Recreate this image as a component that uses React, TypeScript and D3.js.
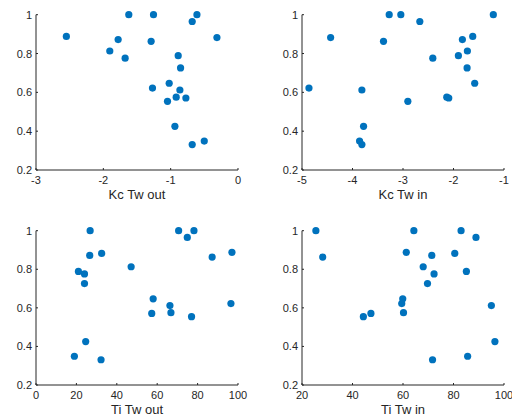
import React from "react";
import * as d3 from "d3";

const yVals = [1, 1, 1, 0.965, 0.888, 0.882, 0.872, 0.863, 0.813, 0.789, 0.776, 0.726, 0.647, 0.622, 0.612, 0.575, 0.571, 0.554, 0.425, 0.349, 0.331];
const kcTwOut = [-1.622, -1.255, -0.61, -0.68, -2.549, -0.313, -1.78, -1.29, -1.904, -0.888, -1.676, -0.853, -1.022, -1.27, -0.863, -0.918, -0.774, -1.047, -0.937, -0.501, -0.68];
const kcTwIn = [-3.273, -3.043, -1.211, -2.667, -1.619, -4.433, -1.824, -3.386, -1.725, -1.903, -2.41, -1.731, -1.58, -4.862, -3.814, -2.133, -2.094, -2.904, -3.781, -3.86, -3.814];
const tiTwOut = [26.8, 70.6, 78.2, 74.9, 97.0, 32.5, 26.6, 87.2, 47.1, 21.0, 24.0, 24.0, 58.0, 96.5, 66.3, 66.8, 57.3, 77.0, 24.6, 19.0, 32.2];
const tiTwIn = [25.5, 64.3, 83.0, 88.9, 61.3, 80.5, 71.4, 28.2, 68.0, 85.1, 72.3, 69.7, 59.9, 59.5, 95.0, 60.2, 47.3, 44.3, 96.4, 85.6, 71.7];

const yTicks = [0.2, 0.4, 0.6, 0.8, 1];
const kcOutTicks = [-3, -2, -1, 0];
const kcInTicks = [-5, -4, -3, -2, -1];
const tiOutTicks = [0, 20, 40, 60, 80, 100];
const tiInTicks = [20, 40, 60, 80, 100];

const panels = [
  { label: "Kc Tw out", xs: kcTwOut, domain: [-3, 0], ticks: kcOutTicks, left: 36, right: 238, top: 14.7, bottom: 170 },
  { label: "Kc Tw in", xs: kcTwIn, domain: [-5, -1], ticks: kcInTicks, left: 302, right: 504, top: 14.7, bottom: 170 },
  { label: "Ti Tw out", xs: tiTwOut, domain: [0, 100], ticks: tiOutTicks, left: 36, right: 238, top: 230.7, bottom: 385 },
  { label: "Ti Tw in", xs: tiTwIn, domain: [20, 100], ticks: tiInTicks, left: 302, right: 504, top: 230.7, bottom: 385 },
];

const AX = "#262626";
const DOT = "#0072BD";
const FONT = "'Liberation Sans', Arial, Helvetica, sans-serif";

function Panel({ p }: { p: typeof panels[number] }) {
  const x = d3.scaleLinear().domain(p.domain).range([p.left, p.right]);
  const y = d3.scaleLinear().domain([0.2, 1]).range([p.bottom, p.top]);
  const tl = 2;
  return (
    <g>
      {p.xs.map((v, i) => (
        <circle key={i} cx={x(v)} cy={y(yVals[i])} r={3.6} fill={DOT} />
      ))}
      <line x1={p.left} x2={p.right} y1={p.bottom} y2={p.bottom} stroke={AX} strokeWidth={1} />
      <line x1={p.left} x2={p.left} y1={p.bottom} y2={p.top} stroke={AX} strokeWidth={1} />
      {p.ticks.map((t) => (
        <g key={"x" + t}>
          <line x1={x(t)} x2={x(t)} y1={p.bottom} y2={p.bottom - tl} stroke={AX} strokeWidth={1} />
          <text x={x(t)} y={p.bottom + 13.5} textAnchor="middle" fontSize={11} fill={AX} fontFamily={FONT}>
            {String(t).replace("-", "-")}
          </text>
        </g>
      ))}
      {yTicks.map((t) => (
        <g key={"y" + t}>
          <line x1={p.left} x2={p.left + tl} y1={y(t)} y2={y(t)} stroke={AX} strokeWidth={1} />
          <text x={p.left - 4} y={y(t) + 4} textAnchor="end" fontSize={11} fill={AX} fontFamily={FONT}>
            {String(t)}
          </text>
        </g>
      ))}
      <text x={(p.left + p.right) / 2} y={p.bottom + 29} textAnchor="middle" fontSize={13} fill={AX} fontFamily={FONT}>
        {p.label}
      </text>
    </g>
  );
}

export default function App() {
  return (
    <div style={{ position: "absolute", left: 0, top: 0 }}>
      <svg width={512} height={417} style={{ display: "block", background: "#fff" }}>
        <rect width={512} height={417} fill="#fff" />
        {panels.map((p) => (
          <Panel key={p.label} p={p} />
        ))}
      </svg>
    </div>
  );
}
